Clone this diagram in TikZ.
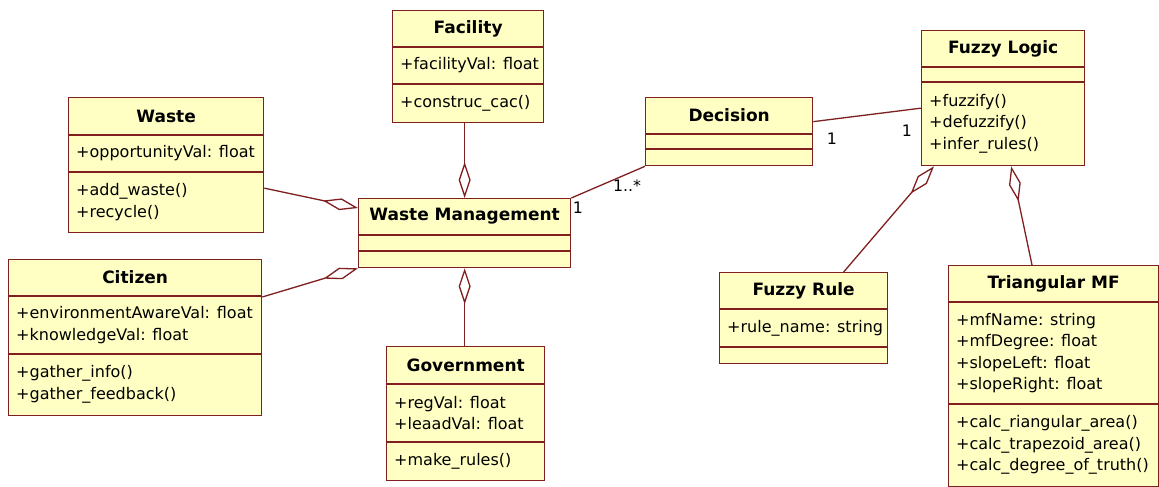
\documentclass[tikz,border=0pt]{standalone}
\usepackage{fontspec}
\setmainfont{DejaVu Sans}
\usetikzlibrary{positioning,arrows.meta}
\definecolor{umlline}{HTML}{7F1F1F}
\definecolor{umlfill}{HTML}{FFFFC4}

% #1 name, #2 top left corner, #3 width, #4 head height, #5 attribute height,
% #6 total height, #7 title, #8 attributes, #9 operations
\newcommand\UmlClass[9]{
	\node[umlbox, minimum width=#3, minimum height=#6, anchor=north west] (#1) at (#2) {};
	\draw[umlline] ([yshift=-#4]#1.north west) -- ([yshift=-#4]#1.north east);
	\draw[umlline] ([yshift=-#4-#5]#1.north west) -- ([yshift=-#4-#5]#1.north east);
	\node[umltitle] (#1-t) at ([yshift=-#4/2]#1.north) {#7};
	\node[umltext] (#1-a) at ([yshift=-#4-#5/2]#1.west |- #1.north) {#8};
	\node[umltext] (#1-m) at ([yshift=-#4/2-#5/2-#6/2]#1.west |- #1.north) {#9};
}

\begin{document}
\begin{tikzpicture}[x=1pt,y=-1pt,
	umlline/.style={draw=umlline, line width=1.3},
	umlbox/.style={umlline, fill=umlfill, inner sep=0},
	umltitle/.style={font=\fontsize{17}{20}\selectfont\bfseries, inner sep=0},
	umltext/.style={font=\fontsize{16}{21.5}\selectfont, align=left, anchor=west, inner xsep=8, inner ysep=0},
	mult/.style={font=\fontsize{15.8}{20}\selectfont, inner sep=0},
	aggr/.style={umlline, {Diamond[fill=white, length=36pt 0, width=12pt 0]}-},
	assoc/.style={umlline}]
	\useasboundingbox (0,0) rectangle (1159,487);

	\UmlClass{fac}{392,10}{151}{37}{37}{112}{Facility}{+facilityVal: float}{+construc\_cac()}
	\UmlClass{waste}{68,97}{195}{38}{37}{135}{Waste}{+opportunityVal: float}{+add\_waste()\\+recycle()}
	\UmlClass{wm}{358,198}{212}{37}{16}{69}{Waste Management}{}{}
	\UmlClass{cit}{8,259}{253}{37}{58}{156}{Citizen}{+environmentAwareVal: float\\+knowledgeVal: float}{+gather\_info()\\+gather\_feedback()}
	\UmlClass{gov}{386,346}{158}{38}{58}{134}{Government}{+regVal: float\\+leaadVal: float}{+make\_rules()}
	\UmlClass{dec}{645,97}{167}{37}{15}{68}{Decision}{}{}
	\UmlClass{fl}{921,30}{163}{37}{15}{135}{Fuzzy Logic}{}{+fuzzify()\\+defuzzify()\\+infer\_rules()}
	\UmlClass{fr}{719,272}{168}{37}{38}{91}{Fuzzy Rule}{+rule\_name: string}{}
	\UmlClass{tmf}{948,265}{210}{37}{102}{221}{Triangular MF}{+mfName: string\\+mfDegree: float\\+slopeLeft: float\\+slopeRight: float}{+calc\_riangular\_area()\\+calc\_trapezoid\_area()\\+calc\_degree\_of\_truth()}

	\draw[aggr] (wm.north) -- (wm.north |- fac.south);
	\draw[aggr] ([yshift=-10]wm.north west) -- ([yshift=-23]waste.east);
	\draw[aggr] (wm.south west) -- ([yshift=-38]cit.north east);
	\draw[aggr] (wm.south) -- (wm.south |- gov.north);
	\draw[assoc] (wm.north east) -- (dec.south west);
	\draw[assoc] ([yshift=10]dec.east) -- ([yshift=-10]fl.west);
	\draw[aggr] ([xshift=13]fl.south west) -- ([xshift=40]fr.north);
	\draw[aggr] ([xshift=8]fl.south) -- ([xshift=84]tmf.north west);

	\node[mult] (m1) at (578,208) {1};
	\node[mult] (m2) at (627,186) {1..*};
	\node[mult] (m3) at (832,139) {1};
	\node[mult] (m4) at (907,131) {1};
\end{tikzpicture}
\end{document}
